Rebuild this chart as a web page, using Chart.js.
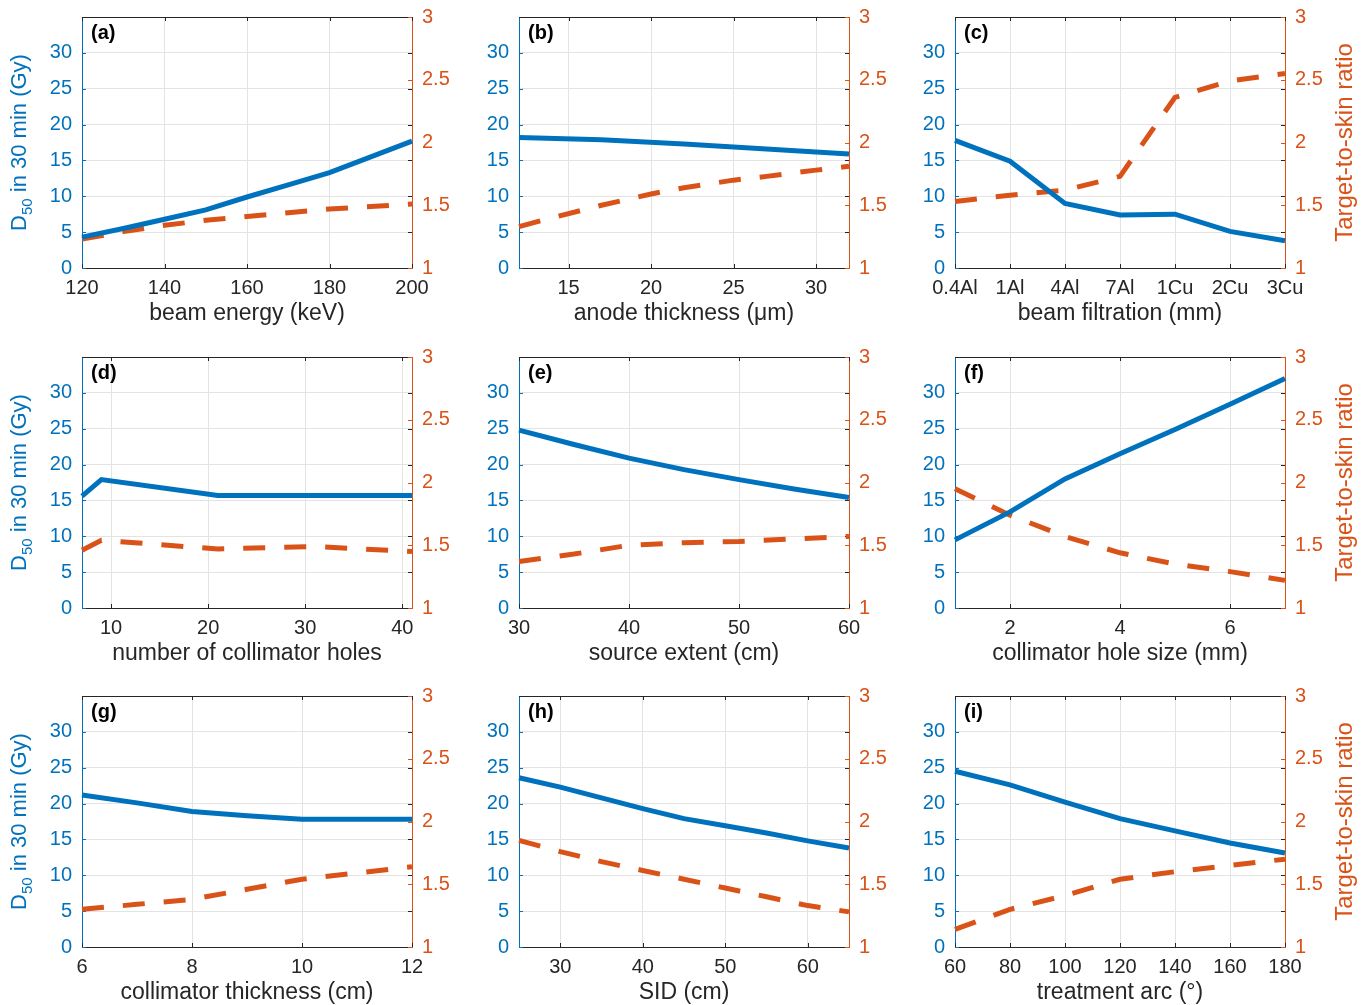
<!DOCTYPE html>
<html>
<head>
<meta charset="utf-8">
<script src="https://cdn.jsdelivr.net/npm/chart.js@4.4.0/dist/chart.umd.min.js"></script>
<style>
  html, body { margin: 0; padding: 0; background: #fff; overflow: hidden; width: 1364px; height: 1005px; }
  canvas { position: absolute; }
</style>
</head>
<body>
<script>
// ---- data ----
// (a) beam energy
const energyKeV = [120, 130, 140, 150, 160, 170, 180, 190, 200];
const energyDose = [4.3, 5.5, 6.8, 8.1, 9.9, 11.6, 13.3, 15.5, 17.7];
const energyRatio = [1.23, 1.29, 1.34, 1.38, 1.41, 1.44, 1.47, 1.49, 1.51];
// (b) anode thickness
const anodeUm = [12, 17, 22, 27, 32];
const anodeDose = [18.2, 17.9, 17.3, 16.6, 15.9];
const anodeUmRatio = [12, 14, 17, 20, 22, 25, 27, 30, 32];
const anodeRatio = [1.33, 1.40, 1.50, 1.59, 1.64, 1.70, 1.73, 1.78, 1.81];
// (c) beam filtration
const filterLabels = ['0.4Al', '1Al', '4Al', '7Al', '1Cu', '2Cu', '3Cu'];
const filterDose = [17.8, 14.9, 9.0, 7.4, 7.5, 5.1, 3.8];
const filterRatio = [1.53, 1.58, 1.62, 1.73, 2.36, 2.49, 2.55];
// (d) number of collimator holes
const holes = [7, 9, 21, 31, 41];
const holesDose = [15.6, 17.9, 15.7, 15.7, 15.7];
const holesRatio = [1.46, 1.54, 1.47, 1.49, 1.45];
// (e) source extent
const extentCm = [30, 35, 40, 45, 50, 55, 60];
const extentDose = [24.8, 22.8, 20.9, 19.3, 17.9, 16.6, 15.4];
const extentRatio = [1.37, 1.43, 1.50, 1.52, 1.53, 1.55, 1.57];
// (f) collimator hole size
const holeSizeMm = [1, 2, 3, 4, 5, 6, 7];
const holeSizeDose = [9.5, 13.4, 18.0, 21.5, 24.9, 28.4, 32.0];
const holeSizeRatio = [1.95, 1.74, 1.57, 1.44, 1.35, 1.29, 1.22];
// (g) collimator thickness
const thickCm = [6, 7, 8, 9, 10, 11, 12];
const thickDose = [21.2, 20.1, 18.9, 18.3, 17.8, 17.8, 17.8];
const thickRatio = [1.30, 1.34, 1.38, 1.46, 1.54, 1.59, 1.64];
// (h) SID
const sidCm = [25, 30, 35, 40, 45, 50, 55, 60, 65];
const sidDose = [23.6, 22.3, 20.8, 19.3, 17.9, 16.9, 15.9, 14.8, 13.8];
const sidRatio = [1.85, 1.76, 1.68, 1.61, 1.54, 1.47, 1.40, 1.33, 1.28];
// (i) treatment arc
const arcDeg = [60, 80, 100, 120, 140, 160, 180];
const arcDose = [24.5, 22.6, 20.2, 17.9, 16.2, 14.5, 13.1];
const arcRatio = [1.14, 1.30, 1.41, 1.54, 1.60, 1.65, 1.70];

// tick labels
const doseTicks = [0, 5, 10, 15, 20, 25, 30];
const ratioTicks = [1, 1.5, 2, 2.5, 3];

const BLUE = '#0072BD', ORANGE = '#D95319', INK = '#262626', GRID = '#e3e3e3';
const FAMILY = "'Liberation Sans', Arial, sans-serif";

// panel geometry on the page
const plotLefts = [82, 519, 955];
const plotTops = [17, 357, 696];
const PW = 330, PH = 251;
const CW = 490, CH = 340;
const LEFT_W = 82, TOP_PAD = 17;
const TICK = 4;

const zip = (xs, ys) => xs.map((x, i) => ({ x: x, y: ys[i] }));

const panels = [
  { letter: '(a)', xTitle: 'beam energy (keV)', xMin: 120, xMax: 200, xTicks: [120, 140, 160, 180, 200],
    dose: zip(energyKeV, energyDose), ratio: zip(energyKeV, energyRatio) },
  { letter: '(b)', xTitle: 'anode thickness (\u03bcm)', xMin: 12, xMax: 32, xTicks: [15, 20, 25, 30],
    dose: zip(anodeUm, anodeDose), ratio: zip(anodeUmRatio, anodeRatio) },
  { letter: '(c)', xTitle: 'beam filtration (mm)', labels: filterLabels,
    dose: filterDose, ratio: filterRatio },
  { letter: '(d)', xTitle: 'number of collimator holes', xMin: 7, xMax: 41, xTicks: [10, 20, 30, 40],
    dose: zip(holes, holesDose), ratio: zip(holes, holesRatio) },
  { letter: '(e)', xTitle: 'source extent (cm)', xMin: 30, xMax: 60, xTicks: [30, 40, 50, 60],
    dose: zip(extentCm, extentDose), ratio: zip(extentCm, extentRatio) },
  { letter: '(f)', xTitle: 'collimator hole size (mm)', xMin: 1, xMax: 7, xTicks: [2, 4, 6],
    dose: zip(holeSizeMm, holeSizeDose), ratio: zip(holeSizeMm, holeSizeRatio) },
  { letter: '(g)', xTitle: 'collimator thickness (cm)', xMin: 6, xMax: 12, xTicks: [6, 8, 10, 12],
    dose: zip(thickCm, thickDose), ratio: zip(thickCm, thickRatio) },
  { letter: '(h)', xTitle: 'SID (cm)', xMin: 25, xMax: 65, xTicks: [30, 40, 50, 60],
    dose: zip(sidCm, sidDose), ratio: zip(sidCm, sidRatio) },
  { letter: '(i)', xTitle: 'treatment arc (\u00b0)', xMin: 60, xMax: 180, xTicks: [60, 80, 100, 120, 140, 160, 180],
    dose: zip(arcDeg, arcDose), ratio: zip(arcDeg, arcRatio) },
];

// top border, inward ticks, panel letter and the rotated axis titles
const framePlugin = {
  id: 'frame',
  beforeDatasetsDraw(chart) {
    const { ctx, chartArea: a, scales } = chart;
    ctx.save();
    ctx.lineWidth = 1;
    // top border
    ctx.strokeStyle = INK;
    ctx.beginPath();
    ctx.moveTo(a.left, a.top + 0.5);
    ctx.lineTo(a.right, a.top + 0.5);
    ctx.stroke();
    // x ticks, top and bottom, pointing in
    ctx.beginPath();
    scales.x.ticks.forEach((t, i) => {
      const px = Math.round(scales.x.getPixelForTick(i)) + 0.5;
      ctx.moveTo(px, a.top); ctx.lineTo(px, a.top + TICK);
      ctx.moveTo(px, a.bottom); ctx.lineTo(px, a.bottom - TICK);
    });
    // dose ticks mirrored on the right edge
    scales.y.ticks.forEach(t => {
      const py = Math.round(scales.y.getPixelForValue(t.value)) + 0.5;
      ctx.moveTo(a.right, py); ctx.lineTo(a.right - TICK, py);
    });
    ctx.stroke();
    ctx.strokeStyle = BLUE;
    ctx.beginPath();
    scales.y.ticks.forEach(t => {
      const py = Math.round(scales.y.getPixelForValue(t.value)) + 0.5;
      ctx.moveTo(a.left, py); ctx.lineTo(a.left + TICK, py);
    });
    ctx.stroke();
    ctx.strokeStyle = ORANGE;
    ctx.beginPath();
    scales.y1.ticks.forEach(t => {
      const py = Math.round(scales.y1.getPixelForValue(t.value)) + 0.5;
      ctx.moveTo(a.right, py); ctx.lineTo(a.right - TICK, py);
    });
    ctx.stroke();
    ctx.restore();
  },
  afterDraw(chart, args, opts) {
    const { ctx, chartArea: a } = chart;
    ctx.save();
    ctx.fillStyle = '#000';
    ctx.font = 'bold 20px ' + FAMILY;
    ctx.textBaseline = 'middle';
    ctx.fillText(opts.letter, a.left + 9, a.top + 16);

    const cy = (a.top + a.bottom) / 2;
    if (opts.leftTitle) {
      ctx.save();
      ctx.translate(20, cy);
      ctx.rotate(-Math.PI / 2);
      ctx.fillStyle = BLUE;
      ctx.textBaseline = 'middle';
      const big = '22px ' + FAMILY, small = '15px ' + FAMILY;
      ctx.font = big;
      const wD = ctx.measureText('D').width;
      const rest = ' in 30 min (Gy)';
      const wR = ctx.measureText(rest).width;
      ctx.font = small;
      const wS = ctx.measureText('50').width;
      let x = -(wD + wS + wR) / 2;
      ctx.font = big;
      ctx.fillText('D', x, 0);
      x += wD;
      ctx.font = small;
      ctx.fillText('50', x, 8);
      x += wS;
      ctx.font = big;
      ctx.fillText(rest, x, 0);
      ctx.restore();
    }
    if (opts.rightTitle) {
      ctx.save();
      ctx.translate(a.right + 60, cy);
      ctx.rotate(-Math.PI / 2);
      ctx.fillStyle = ORANGE;
      ctx.textAlign = 'center';
      ctx.textBaseline = 'middle';
      ctx.font = '24px ' + FAMILY;
      ctx.fillText('Target-to-skin ratio', 0, 0);
      ctx.restore();
    }
    ctx.restore();
  }
};

// keep the label overhang of the y axes from pushing the plot area down
const noVPad = s => { s.paddingTop = 0; s.paddingBottom = 0; };

panels.forEach((p, idx) => {
  const col = idx % 3, row = Math.floor(idx / 3);
  const canvas = document.createElement('canvas');
  canvas.width = CW;
  canvas.height = CH;
  canvas.style.left = (plotLefts[col] - LEFT_W) + 'px';
  canvas.style.top = (plotTops[row] - TOP_PAD) + 'px';
  document.body.appendChild(canvas);

  const isCat = !!p.labels;
  const tickFont = { family: FAMILY, size: 20 };

  const xScale = {
    type: isCat ? 'category' : 'linear',
    offset: false,
    afterFit: s => { s.height = CH - TOP_PAD - PH; },
    grid: { color: GRID, drawTicks: false },
    border: { color: INK, width: 1 },
    ticks: { color: INK, font: tickFont, padding: 8, maxRotation: 0, autoSkip: false },
    title: { display: true, text: p.xTitle, color: INK, font: { family: FAMILY, size: 23 }, padding: { top: 0, bottom: 13 } }
  };
  if (!isCat) {
    xScale.min = p.xMin;
    xScale.max = p.xMax;
    xScale.afterBuildTicks = s => { s.ticks = p.xTicks.map(v => ({ value: v })); };
    xScale.ticks.callback = v => String(v);
  }

  new Chart(canvas, {
    type: 'line',
    data: {
      labels: isCat ? p.labels : undefined,
      datasets: [
        {
          label: 'D50',
          data: p.dose,
          yAxisID: 'y',
          borderColor: BLUE,
          borderWidth: 5,
          pointRadius: 0,
          tension: 0,
          clip: false,
        },
        {
          label: 'ratio',
          data: p.ratio,
          yAxisID: 'y1',
          borderColor: ORANGE,
          borderWidth: 5,
          borderDash: [22, 19],
          borderCapStyle: 'butt',
          pointRadius: 0,
          tension: 0,
          clip: false,
        },
      ],
    },
    options: {
      responsive: false,
      animation: false,
      layout: { padding: { top: TOP_PAD, left: 0, right: 0, bottom: 0 } },
      plugins: {
        legend: { display: false },
        tooltip: { enabled: false },
        frame: { letter: p.letter, leftTitle: col === 0, rightTitle: col === 2 },
      },
      scales: {
        x: xScale,
        y: {
          position: 'left',
          min: 0,
          max: 35,
          afterBuildTicks: s => { s.ticks = doseTicks.map(v => ({ value: v })); },
          afterFit: s => { s.width = LEFT_W; noVPad(s); },
          grid: { color: GRID, drawTicks: false },
          border: { color: BLUE, width: 1 },
          ticks: { color: BLUE, font: tickFont, padding: 10, callback: v => String(v) },
        },
        y1: {
          position: 'right',
          min: 1,
          max: 3,
          afterBuildTicks: s => { s.ticks = ratioTicks.map(v => ({ value: v })); },
          afterFit: s => { s.width = CW - LEFT_W - PW; noVPad(s); },
          grid: { display: false, drawTicks: false },
          border: { color: ORANGE, width: 1 },
          ticks: { color: ORANGE, font: tickFont, padding: 10, callback: v => String(v) },
        },
      },
    },
    plugins: [framePlugin],
  });
});
</script>
</body>
</html>
